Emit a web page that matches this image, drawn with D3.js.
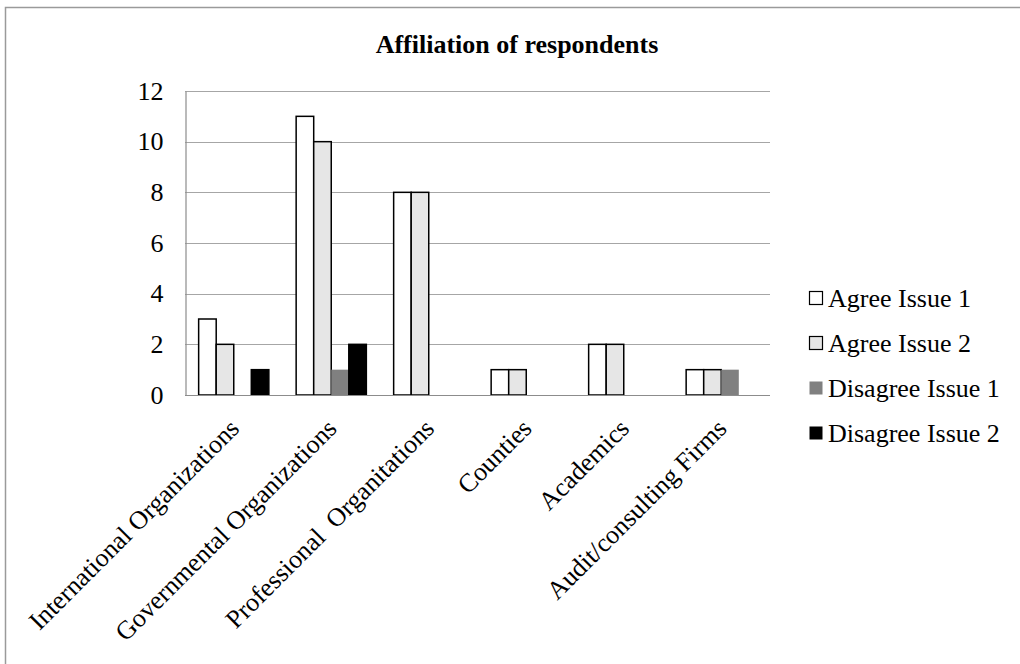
<!DOCTYPE html>
<html>
<head>
<meta charset="utf-8">
<script src="https://cdn.jsdelivr.net/npm/d3@7"></script>
<style>
  html, body { margin: 0; padding: 0; background: #fff; }
  svg text { font-family: "Liberation Serif", "Times New Roman", serif; fill: #000; }
</style>
</head>
<body>
<svg id="chart" width="1020" height="664"></svg>
<script>
// Affiliation categories and answer counts per series
const categories = [
  "International Organizations",
  "Governmental Organizations",
  "Professional  Organitations",
  "Counties",
  "Academics",
  "Audit/consulting Firms"
];
const seriesNames = ["Agree Issue 1", "Agree Issue 2", "Disagree Issue 1", "Disagree Issue 2"];
const agreeIssue1 = [3, 11, 8, 1, 2, 1];
const agreeIssue2 = [2, 10, 8, 1, 2, 1];
const disagreeIssue1 = [0, 1, 0, 0, 0, 1];
const disagreeIssue2 = [1, 2, 0, 0, 0, 0];
const yTicks = [0, 2, 4, 6, 8, 10, 12];
const chartTitle = "Affiliation of respondents";

const seriesValues = [agreeIssue1, agreeIssue2, disagreeIssue1, disagreeIssue2];
const fills = ["#ffffff", "#e6e6e6", "#808080", "#000000"];
const strokes = ["#000", "#000", "none", "#000"];

const svg = d3.select("#chart");

// outer frame
svg.append("rect")
  .attr("x", 5.5).attr("y", 7.5)
  .attr("width", 1030).attr("height", 680)
  .attr("fill", "none").attr("stroke", "#9a9a9a").attr("stroke-width", 1.5);

const plot = { left: 185, right: 770, top: 91, bottom: 395 };

const x0 = d3.scaleBand().domain(categories)
  .range([plot.left, plot.right]).paddingInner(0.28).paddingOuter(0.14);
const x1 = d3.scaleBand().domain(d3.range(seriesNames.length))
  .range([0, x0.bandwidth()]);
const y = d3.scaleLinear().domain([0, 12]).range([plot.bottom, plot.top]);

// title
svg.append("text")
  .attr("x", 517).attr("y", 53)
  .attr("text-anchor", "middle")
  .attr("font-size", 26).attr("font-weight", "bold")
  .text(chartTitle);

// horizontal gridlines
svg.append("g").selectAll("line")
  .data(yTicks.filter(t => t > 0))
  .join("line")
  .attr("x1", plot.left).attr("x2", plot.right)
  .attr("y1", d => Math.round(y(d)) + 0.5).attr("y2", d => Math.round(y(d)) + 0.5)
  .attr("stroke", "#a6a6a6").attr("stroke-width", 1.2);

// y axis
const yAxis = d3.axisLeft(y).tickValues(yTicks).tickSize(0).tickPadding(22);
const gy = svg.append("g").attr("transform", `translate(${plot.left + 0.5},0)`).call(yAxis);
gy.select(".domain").attr("stroke", "#8c8c8c").attr("stroke-width", 1.2);
gy.selectAll("text").attr("font-size", 26).attr("font-family", "Liberation Serif, serif");

// bars
const groups = svg.append("g").selectAll("g")
  .data(categories)
  .join("g")
  .attr("transform", d => `translate(${x0(d)},0)`);

groups.selectAll("rect")
  .data((d, i) => seriesValues.map((vals, s) => ({ s, v: vals[i] })))
  .join("rect")
  .filter(d => d.v > 0)
  .attr("x", d => x1(d.s))
  .attr("y", d => y(d.v))
  .attr("width", x1.bandwidth())
  .attr("height", d => y(0) - y(d.v))
  .attr("fill", d => fills[d.s])
  .attr("stroke", d => strokes[d.s])
  .attr("stroke-width", 1.5);

// x axis baseline
svg.append("line")
  .attr("x1", plot.left).attr("x2", plot.right)
  .attr("y1", plot.bottom + 0.5).attr("y2", plot.bottom + 0.5)
  .attr("stroke", "#8c8c8c").attr("stroke-width", 1.2);

// rotated category labels
svg.append("g").selectAll("text")
  .data(categories)
  .join("text")
  .attr("transform", d => `translate(${x0(d) + x0.bandwidth() / 2 + 7},${plot.bottom + 35}) rotate(-45)`)
  .attr("text-anchor", "end")
  .attr("font-size", 26)
  .style("white-space", "pre")
  .text(d => d);

// legend
const legend = svg.append("g").attr("transform", "translate(809,298)");
const items = legend.selectAll("g")
  .data(seriesNames)
  .join("g")
  .attr("transform", (d, i) => `translate(0,${i * 45})`);
items.append("rect")
  .attr("x", 0.5).attr("y", -6.5)
  .attr("width", 13).attr("height", 13)
  .attr("fill", (d, i) => fills[i])
  .attr("stroke", (d, i) => i < 2 ? "#000" : "none")
  .attr("stroke-width", 1.2);
items.append("text")
  .attr("x", 19).attr("y", 0).attr("dy", "0.35em")
  .attr("font-size", 26)
  .text(d => d);
</script>
</body>
</html>
